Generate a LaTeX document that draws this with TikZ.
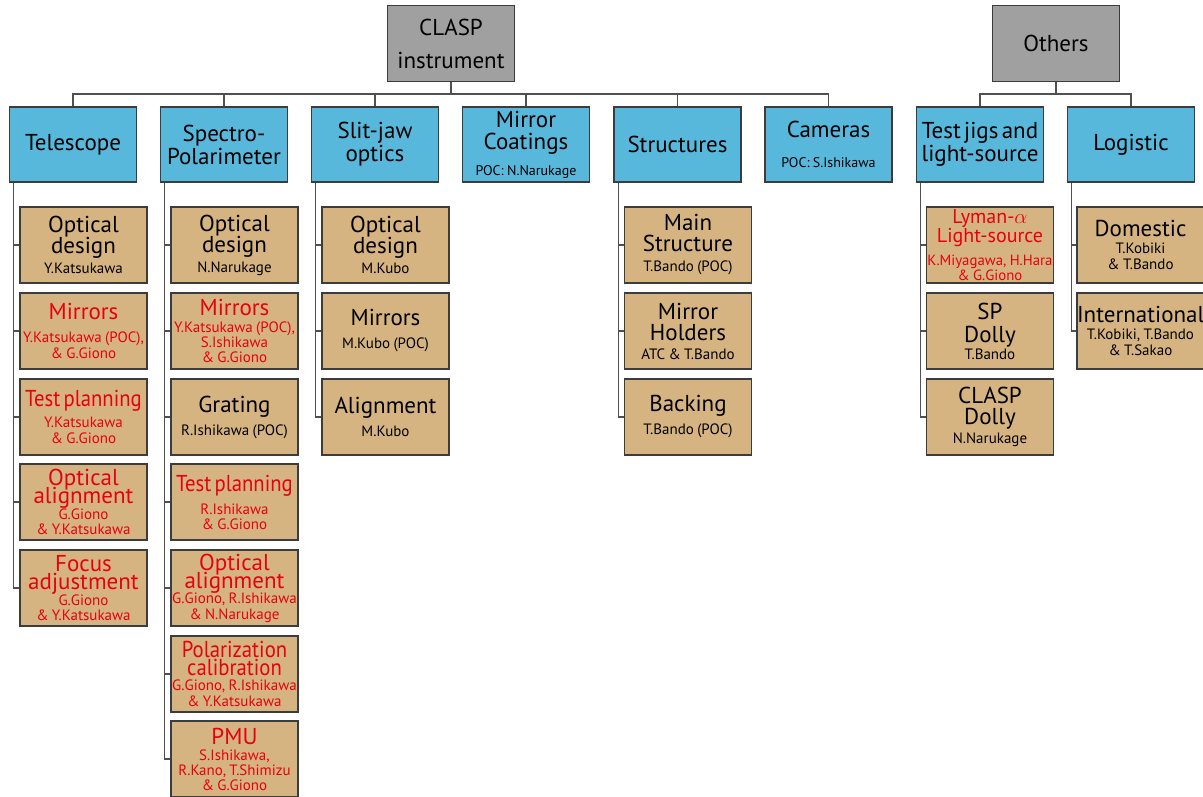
\documentclass[tikz,border=0pt]{standalone}
\usepackage{fontspec}
\setmainfont{PT Sans}
\newfontfamily\narrowfont{PT Sans}[FakeStretch=0.9]
\lineskiplimit=-100pt
\hyphenpenalty=10000
\exhyphenpenalty=10000
\definecolor{boxblue}{HTML}{58B8DC}
\definecolor{boxtan}{HTML}{D6B482}
\definecolor{boxgray}{HTML}{A0A0A0}
\definecolor{txtred}{HTML}{E60012}
\definecolor{edgegray}{HTML}{3C3C3C}
\definecolor{linegray}{HTML}{505050}
% title lines: #1 leading, #2 text
\newcommand{\Ttl}[2]{{\fontsize{23}{#1}\selectfont\lineskiplimit=-100pt\relax #2\par}}
% names: #1 extra gap, #2 leading, #3 text
\newcommand{\Nms}[3]{\vspace{#1}{\fontsize{15}{#2}\selectfont\lineskiplimit=-100pt\relax #3\par}}
\tikzset{
  conn/.style={draw=linegray, line width=1.1pt},
  basebox/.style={draw=edgegray, line width=1.3pt, inner sep=0pt, align=center,
    text width=127pt, minimum height=76pt},
  topbox/.style={basebox, fill=boxgray, minimum width=127pt},
  catbox/.style={basebox, fill=boxblue, minimum width=126pt, minimum height=75pt},
  itembox/.style={basebox, fill=boxtan, minimum width=127pt},
  hot/.style={text=txtred},
}
\begin{document}
\begin{tikzpicture}[x=1pt, y=-1pt]
\useasboundingbox (0,0) rectangle (1203,796);
\fill[white] (0,0) rectangle (1203,796);

% ---- top level
\node[topbox] (clasp) at (451,43.5) {\Ttl{33}{CLASP\\instrument}};
\node[topbox] (others) at (1056,43.5) {\Ttl{23}{Others}};

% ---- categories
\node[catbox] (tel)  at (73,144.5)    {\Ttl{23}{Telescope}};
\node[catbox] (spec) at (224,144.5)   {\Ttl{23}{Spectro-\\Polarimeter}};
\node[catbox] (slit) at (375,144.5)   {\Ttl{23}{Slit-jaw\\optics}};
\node[catbox] (coat) at (526,144.5)   {\Ttl{22}{Mirror\\Coatings}{\fontsize{14}{14}\selectfont\vspace{10pt}POC: N.Narukage\par}};
\node[catbox] (stru) at (677.5,144.5) {\Ttl{23}{Structures}};
\node[catbox] (cam)  at (828.5,144.5) {\Ttl{23}{Cameras}{\fontsize{14}{14}\selectfont\vspace{16pt}POC: S.Ishikawa\par}\vspace{-4pt}};
\node[catbox] (jigs) at (980,144.5)   {\Ttl{23}{Test jigs and\\light-source}};
\node[catbox] (logi) at (1131,144.5)  {\Ttl{23}{Logistic}};

% ---- bus lines
\coordinate (busA) at (451,94);
\coordinate (busB) at (1056,94);
\draw[conn] (clasp.south) -- (busA);
\draw[conn] (tel.north) |- (busA) -| (cam.north);
\foreach \n in {spec,slit,coat,stru} \draw[conn] (\n.north) -- (\n.north |- busA);
\draw[conn] (others.south) -- (busB);
\draw[conn] (jigs.north) |- (busB) -| (logi.north);

% ---- Telescope items
\node[itembox] (t1) at (83.5,245) {\Ttl{21}{Optical\\design}\Nms{4.5pt}{15.5}{Y.Katsukawa}};
\node[itembox,hot] (t2) at (83.5,331) {\Ttl{21}{Mirrors}\Nms{7.5pt}{15.5}{Y.Katsukawa (POC),\\\& G.Giono}};
\node[itembox,hot] (t3) at (83.5,417) {\Ttl{21}{\narrowfont Test planning}\Nms{5.5pt}{15.5}{Y.Katsukawa\\\& G.Giono}};
\node[itembox,hot] (t4) at (83.5,502) {\Ttl{18}{Optical\\alignment}\Nms{0.5pt}{15}{G.Giono\\\& Y.Katsukawa}};
\node[itembox,hot] (t5) at (83.5,588) {\Ttl{18}{Focus\\adjustment}\Nms{0.5pt}{15}{G.Giono\\\& Y.Katsukawa}};

% ---- Spectro-Polarimeter items
\node[itembox] (s1) at (234.5,245) {\Ttl{21}{Optical\\design}\Nms{4.5pt}{15.5}{N.Narukage}};
\node[itembox,hot] (s2) at (234.5,331) {\Ttl{21}{Mirrors}\Nms{2pt}{15}{Y.Katsukawa (POC),\\S.Ishikawa\\\& G.Giono}};
\node[itembox] (s3) at (234.5,417) {\Ttl{21}{Grating}\Nms{7.5pt}{15.5}{R.Ishikawa (POC)}\vspace{17pt}};
\node[itembox,hot] (s4) at (234.5,502) {\Ttl{21}{\narrowfont Test planning}\Nms{8pt}{15}{R.Ishikawa\\\& G.Giono}};
\node[itembox,hot] (s5) at (234.5,588) {\Ttl{18}{Optical\\alignment}\Nms{-1pt}{16}{G.Giono, R.Ishikawa\\\& N.Narukage}};
\node[itembox,hot] (s6) at (234.5,674) {\Ttl{18}{\narrowfont Polarization\\calibration}\Nms{-1pt}{16}{G.Giono, R.Ishikawa\\\& Y.Katsukawa}};
\node[itembox,hot] (s7) at (234.5,759) {\Ttl{21}{PMU}\Nms{1pt}{15}{S.Ishikawa,\\R.Kano, T.Shimizu\\\& G.Giono}};

% ---- Slit-jaw items
\node[itembox] (j1) at (385.5,245) {\Ttl{21}{Optical\\design}\Nms{4.5pt}{15.5}{M.Kubo}};
\node[itembox] (j2) at (385.5,331) {\Ttl{21}{Mirrors}\Nms{7.5pt}{15.5}{M.Kubo (POC)}};
\node[itembox] (j3) at (385.5,417) {\Ttl{21}{Alignment}\Nms{7.5pt}{15.5}{M.Kubo}\vspace{17pt}};

% ---- Structures items
\node[itembox] (r1) at (688,245) {\Ttl{21}{Main\\Structure}\Nms{4.5pt}{15.5}{T.Bando (POC)}};
\node[itembox] (r2) at (688,331) {\Ttl{21}{Mirror\\Holders}\Nms{3.5pt}{15.5}{ATC \& T.Bando}};
\node[itembox] (r3) at (688,417) {\Ttl{21}{Backing}\Nms{7.5pt}{15.5}{T.Bando (POC)}\vspace{17pt}};

% ---- Test jigs items
\node[itembox,hot] (g1) at (990,245) {{\fontsize{20}{17}\selectfont Lyman-$\alpha$\\Light-source\par}\vspace{7pt}{\fontsize{14.8}{13}\selectfont K.Miyagawa, H.Hara\\\& G.Giono\par}};
\node[itembox] (g2) at (990,331) {\Ttl{23}{SP\\Dolly}\Nms{1.5pt}{15.5}{T.Bando}};
\node[itembox] (g3) at (990,417) {\Ttl{21}{CLASP\\Dolly}\Nms{3.5pt}{15.5}{N.Narukage}};

% ---- Logistic items
\node[itembox] (l1) at (1140.5,245) {\Ttl{21}{Domestic}\Nms{1pt}{16}{T.Kobiki\\\& T.Bando}\vspace{-8pt}};
\node[itembox] (l2) at (1140.5,331) {\Ttl{21}{International}\Nms{1pt}{16}{T.Kobiki, T.Bando\\\& T.Sakao}};

% ---- child connectors
\coordinate (ct) at ([xshift=5pt]tel.south west);
\coordinate (cs) at ([xshift=5pt]spec.south west);
\coordinate (cj) at ([xshift=5pt]slit.south west);
\coordinate (cr) at ([xshift=5pt]stru.south west);
\coordinate (cg) at ([xshift=5pt]jigs.south west);
\coordinate (cl) at ([xshift=5pt]logi.south west);
\draw[conn] (ct) |- (t5.west);
\foreach \c in {t1,t2,t3,t4} \draw[conn] (ct |- \c.west) -- (\c.west);
\draw[conn] (cs) |- (s7.west);
\foreach \c in {s1,s2,s3,s4,s5,s6} \draw[conn] (cs |- \c.west) -- (\c.west);
\draw[conn] (cj) |- (j3.west);
\foreach \c in {j1,j2} \draw[conn] (cj |- \c.west) -- (\c.west);
\draw[conn] (cr) |- (r3.west);
\foreach \c in {r1,r2} \draw[conn] (cr |- \c.west) -- (\c.west);
\draw[conn] (cg) |- (g3.west);
\foreach \c in {g1,g2} \draw[conn] (cg |- \c.west) -- (\c.west);
\draw[conn] (cl) |- (l2.west);
\draw[conn] (cl |- l1.west) -- (l1.west);
\end{tikzpicture}
\end{document}
